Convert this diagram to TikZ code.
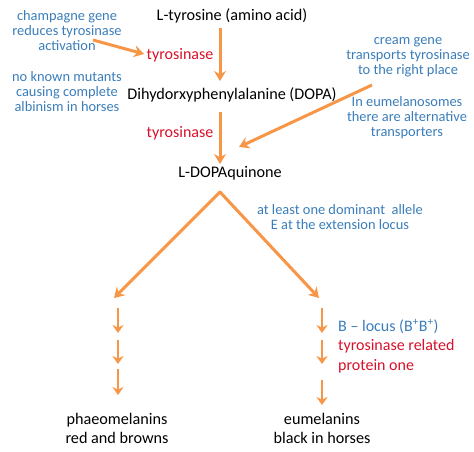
\documentclass[tikz,border=0pt]{standalone}
\usepackage{fontspec}
\setmainfont{Carlito}
\usetikzlibrary{arrows.meta,positioning,calc}
\definecolor{forange}{HTML}{F79646}
\definecolor{fblue}{HTML}{3A7DBA}
\definecolor{fred}{HTML}{D8102A}
\begin{document}
\begin{tikzpicture}[x=1pt, y=-1pt,
  chem/.style={font=\fontsize{16.2}{19}\selectfont, align=center, inner sep=0pt},
  note/.style={font=\fontsize{14.4}{15}\selectfont, text=fblue, align=center, inner sep=0pt},
  enz/.style={font=\fontsize{16}{19.5}\selectfont, text=fred, align=left, inner sep=0pt},
  flow/.style={forange, line width=3pt, -{Stealth[length=10pt,width=12pt]}},
  tick/.style={forange, line width=2.6pt, -{Stealth[length=8pt,width=11pt]}}]
\useasboundingbox (0,0) rectangle (474,451);
% main chain
\node[chem] (tyr)  at (232,16)  {L-tyrosine (amino acid)};
\node[chem] (dopa) at (232,95)  {Dihydorxyphenylalanine (DOPA)};
\node[chem] (quin) at (230,173) {L-DOPAquinone};
\node[enz]  (enzA) at (180,55)  {tyrosinase};
\node[enz]  (enzB) at (180,133) {tyrosinase};
% notes left
\node[note] (champ) at (67,31)  {champagne gene\\reduces tyrosinase\\activation};
\node[note] (albin) at (67,92)  {no known mutants\\causing complete\\albinism in horses};
% notes right
\node[note] (cream) at (408,57)  {cream gene\\transports tyrosinase\\to the right place};
\node[note] (eumel) at (407,118) {In eumelanosomes\\there are alternative\\transporters};
\node[note] (ext)   at (340,217) {at least one dominant~~allele\\E at the extension locus};
% end products
\node[chem] (phaeo) at (117,428) {phaeomelanins\\red and browns};
\node[chem] (eumln) at (322,428) {eumelanins\\black in horses};
\node[enz, anchor=west] (blocus) at (338,346)
  {\textcolor{fblue}{B -- locus (B\textsuperscript{+}B\textsuperscript{+})}\\tyrosinase related\\protein one};
% arrow ends
\coordinate (a1s) at (220,28);  \coordinate (a1e) at (220,81);
\coordinate (a2s) at (220,112); \coordinate (a2e) at (220,164);
\coordinate (chs) at (93,40);   \coordinate (che) at (144,54);
\coordinate (crs) at (372,85);  \coordinate (cre) at (239,147);
\coordinate (apex) at (220,192);
\coordinate (lend) at (114,298); \coordinate (rend) at (319,298);
\draw[flow] (a1s) -- (a1e);
\draw[flow] (a2s) -- (a2e);
\draw[flow] (chs) -- (che);
\draw[flow] (crs) -- (cre);
\draw[flow, line cap=round] (apex) -- (lend);
\draw[flow, line cap=round] (apex) -- (rend);
% short steps
\foreach \ys/\ye in {308/333, 340/364, 369/395}
  \draw[tick] (118,\ys) -- (118,\ye);
\foreach \ys/\ye in {308/333, 340/364, 380/405}
  \draw[tick] (322,\ys) -- (322,\ye);
\end{tikzpicture}
\end{document}
